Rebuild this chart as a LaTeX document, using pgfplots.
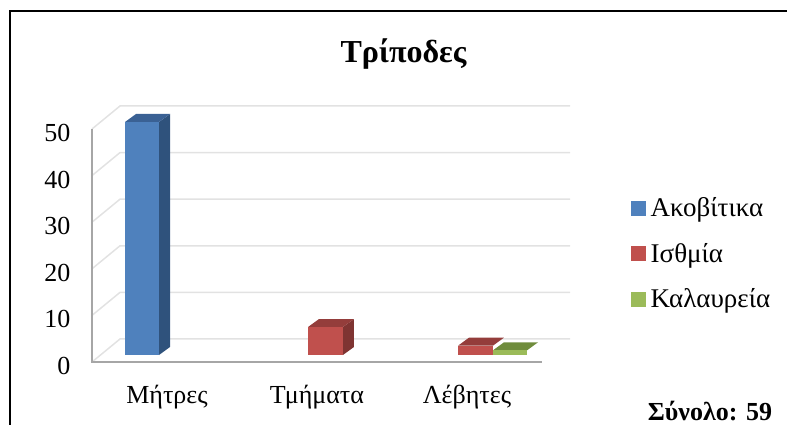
\documentclass[border=0pt]{standalone}
\usepackage{pgfplots}
\pgfplotsset{compat=1.18}
\usepackage{fontspec}
\setmainfont{Liberation Serif}
\definecolor{bluef}{HTML}{4F81BD}
\definecolor{blued}{HTML}{2F527C}
\definecolor{bluet}{HTML}{3A6194}
\definecolor{redf}{HTML}{C0504D}
\definecolor{redd}{HTML}{7F3432}
\definecolor{redt}{HTML}{943D3B}
\definecolor{greenf}{HTML}{9BBB59}
\definecolor{greent}{HTML}{6F8C3C}
\definecolor{gridc}{HTML}{E2E2E2}
\definecolor{axc}{HTML}{A6A6A6}
\begin{document}
\begin{tikzpicture}[x=1pt,y=1pt]
\path[use as bounding box] (0,0) rectangle (787,425);
\draw[black,line width=2pt] (9.5,0) -- (9.5,414) -- (787,414);
\node[font=\fontsize{32}{36}\selectfont\bfseries,anchor=center] at (403.5,371) {Τρίποδες};
\node[font=\fontsize{26}{30}\selectfont\bfseries,anchor=base,inner sep=0pt] at (710,4) {Σύνολο: 59};
\begin{axis}[
  at={(92pt,63pt)},anchor=south west,
  scale only axis,width=450pt,height=233pt,
  xmin=-0.5,xmax=2.5,ymin=0,ymax=50,
  clip=false,
  axis line style={draw=none},
  tick style={draw=none},
  xtick={0,1,2},xticklabels={Μήτρες,Τμήματα,Λέβητες},
  ytick={0,10,20,30,40,50},
  /pgf/number format/assume math mode=true,
  tick label style={font=\fontsize{26}{30}\selectfont},
  yticklabel style={yshift=-4pt,xshift=-18pt},
  xticklabel style={yshift=-20pt},
  legend style={at={(1.198,0.715)},draw=none,fill=none,anchor=north west,font=\fontsize{27}{30}\selectfont,
     row sep=21pt,inner sep=0pt,cells={anchor=west}},
  legend cell align=left,
  legend image code/.code={\fill[#1] (0pt,-7pt) rectangle (14pt,7pt);\path (17pt,0pt);},
]
\addlegendimage{bluef}\addlegendentry{Ακοβίτικα}
\addlegendimage{redf}\addlegendentry{Ισθμία}
\addlegendimage{greenf}\addlegendentry{Καλαυρεία}
% back wall and side wall
\addplot[forget plot,gridc,line width=1.5pt] coordinates {(-0.5,0) (-0.3133,4.94) (2.6867,4.94)};
\addplot[forget plot,gridc,line width=1.5pt] coordinates {(-0.5,10) (-0.3133,14.94) (2.6867,14.94)};
\addplot[forget plot,gridc,line width=1.5pt] coordinates {(-0.5,20) (-0.3133,24.94) (2.6867,24.94)};
\addplot[forget plot,gridc,line width=1.5pt] coordinates {(-0.5,30) (-0.3133,34.94) (2.6867,34.94)};
\addplot[forget plot,gridc,line width=1.5pt] coordinates {(-0.5,40) (-0.3133,44.94) (2.6867,44.94)};
\addplot[forget plot,gridc,line width=1.5pt] coordinates {(-0.5,50) (-0.3133,54.94) (2.6867,54.94)};
\addplot[forget plot,axc,line width=2pt] coordinates {(-0.5,50) (-0.5,0) (2.5,0)};
% Ακοβίτικα, Μήτρες = 50
\addplot[forget plot,fill=blued,draw=none] coordinates {(-0.0533,1.5) (0.02,3.22) (0.02,53.22) (-0.0533,51.5)} -- cycle;
\addplot[forget plot,fill=bluet,draw=none] coordinates {(-0.28,51.5) (-0.0533,51.5) (0.02,53.22) (-0.2067,53.22)} -- cycle;
\addplot[forget plot,fill=bluef,draw=none] coordinates {(-0.28,1.5) (-0.0533,1.5) (-0.0533,51.5) (-0.28,51.5)} -- cycle;
% Ισθμία, Τμήματα = 6
\addplot[forget plot,fill=redd,draw=none] coordinates {(1.173,1.5) (1.2463,3.22) (1.2463,9.22) (1.173,7.5)} -- cycle;
\addplot[forget plot,fill=redt,draw=none] coordinates {(0.94,7.5) (1.173,7.5) (1.2463,9.22) (1.0133,9.22)} -- cycle;
\addplot[forget plot,fill=redf,draw=none] coordinates {(0.94,1.5) (1.173,1.5) (1.173,7.5) (0.94,7.5)} -- cycle;
% Ισθμία, Λέβητες = 2
\addplot[forget plot,fill=redt,draw=none] coordinates {(1.94,3.5) (2.173,3.5) (2.2463,5.22) (2.0133,5.22)} -- cycle;
\addplot[forget plot,fill=redf,draw=none] coordinates {(1.94,1.5) (2.173,1.5) (2.173,3.5) (1.94,3.5)} -- cycle;
% Καλαυρεία, Λέβητες = 1
\addplot[forget plot,fill=greent,draw=none] coordinates {(2.173,2.5) (2.4,2.5) (2.4733,4.22) (2.2463,4.22)} -- cycle;
\addplot[forget plot,fill=greenf,draw=none] coordinates {(2.173,1.5) (2.4,1.5) (2.4,2.5) (2.173,2.5)} -- cycle;
\end{axis}
\end{tikzpicture}
\end{document}
